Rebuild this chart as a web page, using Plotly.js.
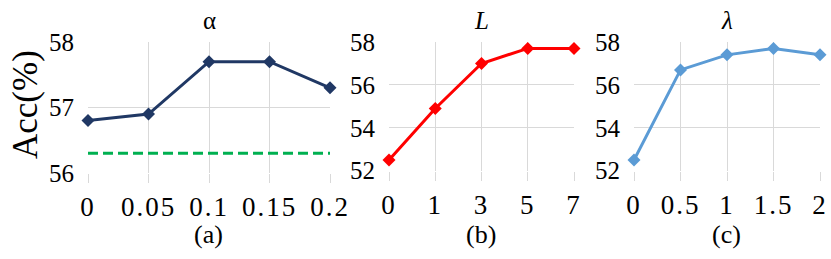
<!DOCTYPE html>
<html>
<head>
<meta charset="utf-8">
<script src="https://cdn.plot.ly/plotly-3.0.1.min.js"></script>
<style>
html,body{margin:0;padding:0;background:#fff;}
#chart{width:831px;height:259px;}
.xtick text, .x2tick text, .x3tick text { letter-spacing: 2px; }
</style>
</head>
<body>
<div id="chart"></div>
<script>
// Data
const alphaCats = ['0', '0.05', '0.1', '0.15', '0.2'];
const alphaAcc = [56.8, 56.9, 57.7, 57.7, 57.3];
const baselineAcc = [56.3, 56.3, 56.3, 56.3, 56.3];
const LCats = ['0', '1', '3', '5', '7'];
const LAcc = [52.5, 54.9, 57.0, 57.7, 57.7];
const lambdaCats = ['0', '0.5', '1', '1.5', '2'];
const lambdaAcc = [52.5, 56.7, 57.4, 57.7, 57.4];
const panelTitles = ['α', '<i>L</i>', '<i>λ</i>'];
const panelLabels = ['(a)', '(b)', '(c)'];

const W = 831, H = 259;
const px = v => v / W;
const py = v => (H - v) / H;
const serif = 'Liberation Serif';
const grid = '#d9d9d9';

function mk(xa, ya, cats, vals, color, extra) {
  return Object.assign({
    x: cats, y: vals, xaxis: xa, yaxis: ya, type: 'scatter', mode: 'lines+markers',
    line: {color: color, width: 3}, marker: {symbol: 'diamond', size: 10, color: color},
    cliponaxis: false, showlegend: false, hoverinfo: 'skip'
  }, extra || {});
}

const traces = [
  mk('x', 'y', alphaCats, baselineAcc, '#00B050', {mode: 'lines', line: {color: '#00B050', width: 3, dash: '10px,5px'}}),
  mk('x', 'y', alphaCats, alphaAcc, '#203864'),
  mk('x2', 'y2', LCats, LAcc, '#FF0000'),
  mk('x3', 'y3', lambdaCats, lambdaAcc, '#5B9BD5')
];

function xax(d0, d1, anchor) {
  return {
    domain: [px(d0), px(d1)], anchor: anchor, type: 'category', range: [0, 4],
    showgrid: true, gridcolor: grid, gridwidth: 1, zeroline: false, showline: false,
    ticks: 'outside', ticklen: 9, tickcolor: grid, tickwidth: 1,
    tickfont: {family: serif, size: 27, color: '#000'}, ticklabelstandoff: 1, fixedrange: true
  };
}
function yax(b, t, r, anchor, dt) {
  return {
    domain: [py(b), py(t)], anchor: anchor, range: r, dtick: dt, tick0: r[0],
    showgrid: true, gridcolor: grid, gridwidth: 1, zeroline: false, showline: false,
    ticks: '', tickfont: {family: serif, size: 25, color: '#000'}, ticklabelstandoff: 13, fixedrange: true
  };
}

const annotations = [];
const centers = [209, 482, 727];
panelTitles.forEach((t, i) => annotations.push({
  xref: 'paper', yref: 'paper', x: px(centers[i]), y: py(21), text: t, showarrow: false,
  xanchor: 'center', yanchor: 'middle', font: {family: serif, size: 25, color: '#000'}
}));
panelLabels.forEach((t, i) => annotations.push({
  xref: 'paper', yref: 'paper', x: px(centers[i] - 1), y: py(234), text: t, showarrow: false,
  xanchor: 'center', yanchor: 'middle', font: {family: serif, size: 26, color: '#000'}
}));
annotations.push({
  xref: 'paper', yref: 'paper', x: px(26), y: py(105), text: 'Acc(%)', showarrow: false,
  textangle: -90, xanchor: 'center', yanchor: 'middle', font: {family: serif, size: 35, color: '#000'}
});

const layout = {
  width: W, height: H, margin: {l: 0, r: 0, t: 0, b: 0},
  font: {family: serif},
  paper_bgcolor: '#fff', plot_bgcolor: '#fff',
  xaxis: xax(88, 330, 'y'), yaxis: yax(173, 42, [56, 58], 'x', 1),
  xaxis2: xax(389, 574, 'y2'), yaxis2: yax(170.7, 42, [52, 58], 'x2', 2),
  xaxis3: xax(634, 820, 'y3'), yaxis3: yax(170.7, 42, [52, 58], 'x3', 2),
  annotations: annotations
};

Plotly.newPlot('chart', traces, layout, {staticPlot: true, displayModeBar: false});
</script>
</body>
</html>
